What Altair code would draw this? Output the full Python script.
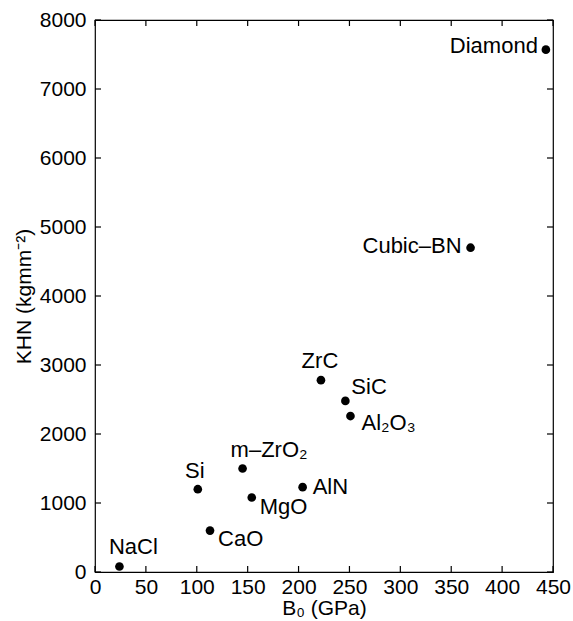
import altair as alt
import pandas as pd

# data
materials = ["NaCl", "Si", "CaO", "m–ZrO₂", "MgO", "AlN", "ZrC", "SiC", "Al₂O₃", "Cubic–BN", "Diamond"]
b0_gpa = [24, 101, 113, 145, 154, 204, 222, 246, 251, 369, 443]
khn = [80, 1200, 600, 1500, 1080, 1230, 2780, 2480, 2260, 4700, 7570]
x_ticks = [0, 50, 100, 150, 200, 250, 300, 350, 400, 450]
y_ticks = [0, 1000, 2000, 3000, 4000, 5000, 6000, 7000, 8000]

df = pd.DataFrame({"name": materials, "B0": b0_gpa, "KHN": khn})
xt = pd.DataFrame({"v": x_ticks})
yt = pd.DataFrame({"v": y_ticks})

FONT = "Liberation Sans"
W, H = 458, 552

xscale = alt.Scale(domain=[0, 450], nice=False, zero=False)
yscale = alt.Scale(domain=[0, 8000], nice=False, zero=False)

xaxis = alt.Axis(values=x_ticks, format="d", title="B₀ (GPa)", labelFontSize=21, titleFontSize=21,
                 labelFont=FONT, titleFont=FONT, labelColor="black", titleColor="black",
                 ticks=False, tickSize=0, domain=False, grid=False, labelPadding=4,
                 titlePadding=0, titleFontWeight="normal", labelFlush=False)
yaxis = alt.Axis(values=y_ticks, format="d", title="KHN (kgmm⁻²)", labelFontSize=21, titleFontSize=21,
                 labelFont=FONT, titleFont=FONT, labelColor="black", titleColor="black",
                 ticks=False, tickSize=0, domain=False, grid=False, labelPadding=9,
                 titlePadding=5, titleFontWeight="normal", labelFlush=False)

points = alt.Chart(df).mark_circle(size=75, color="black", opacity=1).encode(
    x=alt.X("B0:Q", scale=xscale, axis=xaxis),
    y=alt.Y("KHN:Q", scale=yscale, axis=yaxis),
)

# label layout (offsets from each dot)
layout = {
    "NaCl": ("center", 14, -19),
    "Si": ("center", -3, -18),
    "CaO": ("left", 8, 8),
    "m–ZrO₂": ("left", -12, -19),
    "MgO": ("left", 8, 10),
    "AlN": ("left", 10, 0),
    "ZrC": ("center", -1, -19),
    "SiC": ("left", 6, -14),
    "Al₂O₃": ("left", 11, 7),
    "Cubic–BN": ("right", -9, -2),
    "Diamond": ("right", -8, -4),
}

labels = []
for nm, (al, dx, dy) in layout.items():
    labels.append(
        alt.Chart(df).transform_filter(alt.datum.name == nm).mark_text(
            align=al, baseline="middle", dx=dx, dy=dy, fontSize=22, font=FONT, color="black"
        ).encode(x=alt.X("B0:Q", scale=xscale), y=alt.Y("KHN:Q", scale=yscale), text="name:N")
    )

TL = 6
bottom_ticks = alt.Chart(xt).mark_rule(color="black", strokeWidth=1.2).encode(
    x=alt.X("v:Q", scale=xscale), y=alt.value(H), y2=alt.value(H - TL))
top_ticks = alt.Chart(xt).mark_rule(color="black", strokeWidth=1.2).encode(
    x=alt.X("v:Q", scale=xscale), y=alt.value(0), y2=alt.value(TL))
left_ticks = alt.Chart(yt).mark_rule(color="black", strokeWidth=1.2).encode(
    y=alt.Y("v:Q", scale=yscale), x=alt.value(0), x2=alt.value(TL))
right_ticks = alt.Chart(yt).mark_rule(color="black", strokeWidth=1.2).encode(
    y=alt.Y("v:Q", scale=yscale), x=alt.value(W), x2=alt.value(W - TL))

chart = alt.layer(points, *labels, bottom_ticks, top_ticks, left_ticks, right_ticks).properties(
    width=W, height=H,
    autosize=alt.AutoSizeParams(type="none"),
    padding={"left": 95, "top": 20, "right": 20, "bottom": 49},
    background="white",
).configure_view(stroke="black", strokeWidth=1.2)

chart.save("out.html", embed_options={"renderer": "svg", "actions": False})
